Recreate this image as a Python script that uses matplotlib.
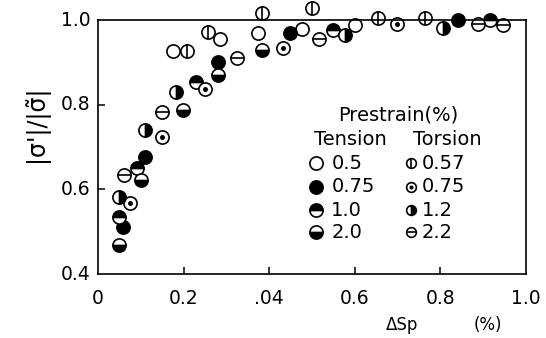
import numpy as np
import matplotlib
matplotlib.use('Agg')
import matplotlib.pyplot as plt

# tension prestrain series
t05_x = [0.175, 0.285, 0.374, 0.477, 0.600]
t05_y = [0.927, 0.955, 0.969, 0.979, 0.988]
t075_x = [0.058, 0.110, 0.280, 0.449, 0.841]
t075_y = [0.511, 0.676, 0.901, 0.969, 1.000]
t10_x = [0.049, 0.091, 0.229, 0.549, 0.916]
t10_y = [0.535, 0.650, 0.854, 0.976, 1.000]
t20_x = [0.049, 0.100, 0.199, 0.280, 0.383]
t20_y = [0.469, 0.622, 0.787, 0.870, 0.929]

# torsion prestrain series
r057_x = [0.208, 0.257, 0.383, 0.500, 0.654, 0.764]
r057_y = [0.927, 0.972, 1.017, 1.028, 1.005, 1.005]
r075_x = [0.075, 0.150, 0.250, 0.432, 0.699]
r075_y = [0.568, 0.724, 0.837, 0.934, 0.991]
r12_x = [0.049, 0.110, 0.182, 0.577, 0.806]
r12_y = [0.582, 0.740, 0.830, 0.965, 0.981]
r22_x = [0.061, 0.150, 0.325, 0.516, 0.888, 0.946]
r22_y = [0.634, 0.783, 0.910, 0.955, 0.991, 0.988]

xticks = [0.2, 0.4, 0.6, 0.8]
xtick_labels = ['0.2', '.04', '0.6', '0.8']
yticks = [0.4, 0.6, 0.8, 1.0]
ytick_labels = ['0.4', '0.6', '0.8', '1.0']

MS = 9.5
EW = 1.2


def mark(ax, x, y, kind, ms=MS, **kw):
    base = dict(ls='none', ms=ms, mec='black', mew=EW, clip_on=False)
    base.update(kw)
    if kind == 'open':
        ax.plot(x, y, 'o', mfc='white', **base)
    elif kind == 'filled':
        ax.plot(x, y, 'o', mfc='black', **base)
    elif kind in ('top', 'bottom', 'right'):
        ax.plot(x, y, 'o', fillstyle=kind, mfc='black', markerfacecoloralt='white', **base)
    elif kind == 'vline':
        ax.plot(x, y, 'o', mfc='white', **base)
        ax.plot(x, y, '|', **base)
    elif kind == 'hline':
        ax.plot(x, y, 'o', mfc='white', **base)
        ax.plot(x, y, '_', **base)
    elif kind == 'dot':
        ax.plot(x, y, 'o', mfc='white', **base)
        base['ms'] = ms * 0.25
        ax.plot(x, y, 'o', mfc='black', **base)


fig = plt.figure(figsize=(5.46, 3.38), dpi=100)
ax = fig.add_axes([0.1795, 0.1893, 0.7839, 0.7515])

mark(ax, t05_x, t05_y, 'open')
mark(ax, t075_x, t075_y, 'filled')
mark(ax, t10_x, t10_y, 'top')
mark(ax, t20_x, t20_y, 'bottom')
mark(ax, r057_x, r057_y, 'vline')
mark(ax, r075_x, r075_y, 'dot')
mark(ax, r12_x, r12_y, 'right')
mark(ax, r22_x, r22_y, 'hline')

ax.set_xlim(0, 1.0)
ax.set_ylim(0.4, 1.0)
ax.set_xticks(xticks)
ax.set_xticklabels([])
ax.set_yticks(yticks[1:-1])
ax.set_yticklabels([])
ax.tick_params(direction='in', length=5, width=1.1)
for s in ax.spines.values():
    s.set_linewidth(1.2)

# tick labels placed by hand to mimic the scan
fs = 13.5
for v, lab in zip([0.0] + xticks + [1.0], ['0'] + xtick_labels + ['1.0']):
    ax.text(v, -0.095, lab, transform=ax.get_xaxis_transform(), ha='center', va='center', fontsize=fs)
for v, lab in zip(yticks, ytick_labels):
    ax.text(-0.018, v, lab, transform=ax.get_yaxis_transform(), ha='right', va='center', fontsize=fs)

ax.text(-0.145, 0.59, "|σ'|/|σ̃|", transform=ax.transAxes, rotation=90,
        ha='center', va='center', fontsize=17)
ax.text(0.71, -0.2, 'ΔSp', transform=ax.transAxes, ha='center', va='center', fontsize=12)
ax.text(0.91, -0.2, '(%)', transform=ax.transAxes, ha='center', va='center', fontsize=12)

# legend drawn by hand
lfs = 14
ax.text(0.561, 0.626, 'Prestrain(%)', transform=ax.transAxes, ha='left', va='center', fontsize=lfs)
ax.text(0.505, 0.528, 'Tension', transform=ax.transAxes, ha='left', va='center', fontsize=lfs)
ax.text(0.735, 0.528, 'Torsion', transform=ax.transAxes, ha='left', va='center', fontsize=lfs)
rows_y = [0.437, 0.343, 0.252, 0.165]
ten_kinds = ['open', 'filled', 'top', 'bottom']
ten_labels = ['0.5', '0.75', '1.0', '2.0']
tor_kinds = ['vline', 'dot', 'right', 'hline']
tor_labels = ['0.57', '0.75', '1.2', '2.2']
for ry, k1, l1, k2, l2 in zip(rows_y, ten_kinds, ten_labels, tor_kinds, tor_labels):
    mark(ax, [0.509], [ry], k1, transform=ax.transAxes)
    ax.text(0.545, ry, l1, transform=ax.transAxes, ha='left', va='center', fontsize=lfs)
    mark(ax, [0.731], [ry], k2, ms=7, transform=ax.transAxes)
    ax.text(0.757, ry, l2, transform=ax.transAxes, ha='left', va='center', fontsize=lfs)

fig.savefig('out.png', dpi=100)
